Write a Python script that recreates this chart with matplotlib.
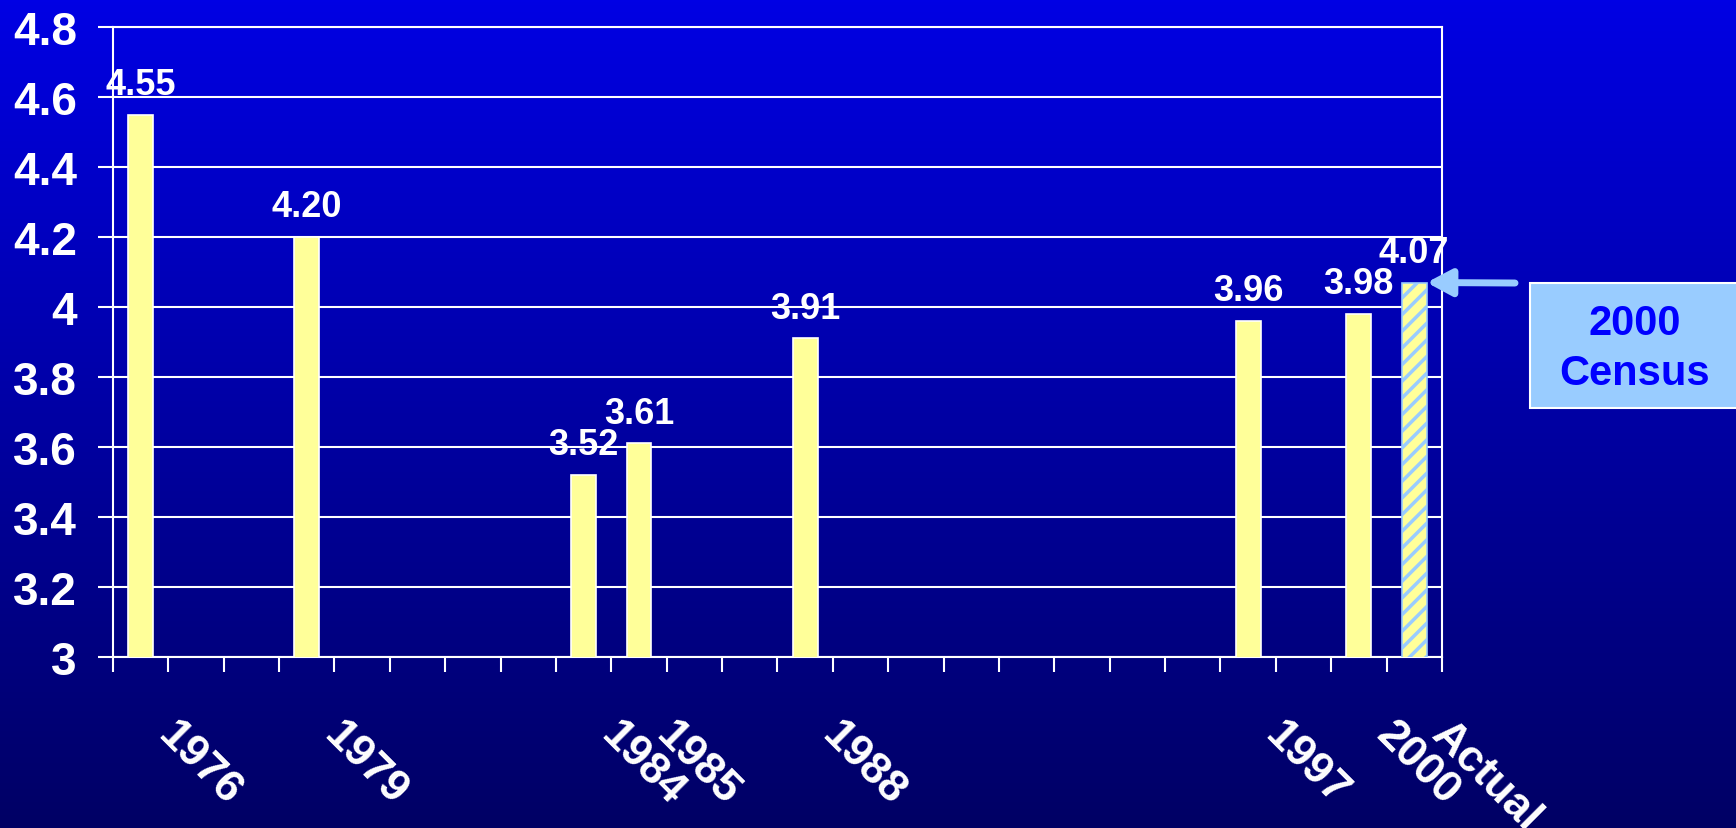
import numpy as np
import matplotlib.pyplot as plt
from matplotlib.patches import Rectangle
from matplotlib.transforms import ScaledTranslation

# --- data ---
slots = [0, 3, 8, 9, 12, 20, 22, 23]          # category slot on the 24-slot axis
labels = ['1976', '1979', '1984', '1985', '1988', '1997', '2000', 'Actual']
values = [4.55, 4.20, 3.52, 3.61, 3.91, 3.96, 3.98, 4.07]
n_slots = 24
yticks = [3, 3.2, 3.4, 3.6, 3.8, 4, 4.2, 4.4, 4.6, 4.8]

plt.rcParams['font.family'] = ['Liberation Sans', 'DejaVu Sans']
plt.rcParams['font.weight'] = 'bold'
plt.rcParams['hatch.linewidth'] = 2.5

fig = plt.figure(figsize=(17.36, 8.29), dpi=100)

# --- gradient background ---
bg = fig.add_axes([0, 0, 1, 1], zorder=-10)
grad = np.linspace(0, 1, 256).reshape(-1, 1)
top = np.array([0, 0, 228]) / 255
bot = np.array([0, 0, 100]) / 255
img = top + (bot - top) * grad[..., None]
bg.imshow(img, aspect='auto', extent=[0, 1, 0, 1])
bg.axis('off')

ax = fig.add_axes([0.0651, 0.2063, 0.7655, 0.7599])
ax.set_facecolor('none')

xs = np.array(slots) + 0.5
bw = 0.45
colors = ['#FFFF99'] * (len(values) - 1)
ax.bar(xs[:-1], values[:-1], width=bw, color=colors,
       edgecolor='white', linewidth=1.2, zorder=3)
ax.bar(xs[-1], values[-1], width=bw, color='#FFFF99', edgecolor='#99CCFF',
       hatch='//', linewidth=1.2, zorder=3)

for x, v in zip(xs, values):
    ax.annotate(f'{v:.2f}', xy=(x, v), xytext=(0, 15), textcoords='offset points',
                ha='center', va='baseline', color='white', fontsize=26,
                fontweight='bold', zorder=5)

ax.set_xlim(0, n_slots)
ax.set_ylim(3, 4.8)

# --- ticks ---
ax.set_xticks(range(n_slots + 1))
ax.set_xticklabels([])
ax.set_yticks(yticks)
ax.set_yticklabels([f'{t:g}' for t in yticks])
ax.tick_params(axis='both', colors='white', length=11, width=1.5, direction='out')
ax.tick_params(axis='y', labelsize=33, pad=15, labelcolor='white')
for t in ax.get_yticklabels():
    t.set_fontweight('bold')

# rotated category labels, shifted like the original slide
off = ScaledTranslation(0.38, -0.56, fig.dpi_scale_trans)
for x, lab in zip(xs, labels):
    ax.text(x, 0, lab, transform=ax.get_xaxis_transform() + off,
            rotation=-45, rotation_mode='anchor', ha='left', va='top',
            color='white', fontsize=32, fontweight='bold', clip_on=False)

ax.grid(axis='y', color='white', linewidth=1.5, zorder=1)
ax.grid(axis='x', visible=False)
for s in ax.spines.values():
    s.set_color('white')
    s.set_linewidth(1.5)

# --- 2000 Census callout ---
box = Rectangle((0.8813, 0.5066), 0.13, 0.1508, transform=fig.transFigure,
                facecolor='#99CCFF', edgecolor='white', linewidth=1.5, zorder=4)
fig.patches.append(box)
fig.text(0.9418, 0.579, '2000\nCensus', ha='center', va='center', color='#0000FF',
         fontsize=30, fontweight='bold', linespacing=1.35, zorder=6)

ax.annotate('', xy=(xs[-1] + bw / 2, values[-1]), xytext=(0.8727, 0.5066 + 0.1508),
            textcoords='figure fraction',
            arrowprops=dict(arrowstyle='-|>,head_length=1.5,head_width=0.8',
                            color='#99CCFF', lw=5, shrinkA=0, shrinkB=0))

fig.savefig('out.png', dpi=100)
